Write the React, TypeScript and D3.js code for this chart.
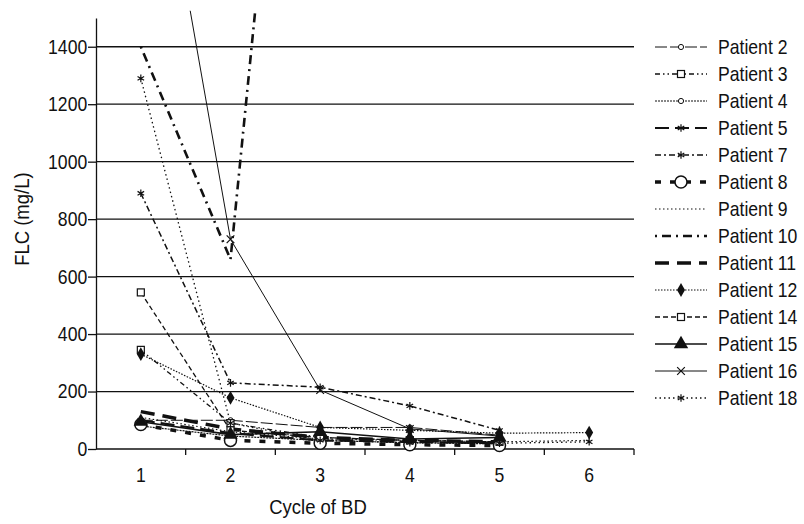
import React, { useEffect, useRef } from 'react';
import * as d3 from 'd3';

const cycles = ['1', '2', '3', '4', '5', '6'];
const yTicks = [0, 200, 400, 600, 800, 1000, 1200, 1400];

// FLC values per cycle (mg/L)
const patient2 = [100, 100, 75, 75, 48];
const patient3 = [345, 90, 40, 30, 25];
const patient4 = [80, 45, 30, 22, 18];
const patient5 = [100, 55, 30, 25, 20];
const patient7 = [890, 230, 215, 150, 65];
const patient8 = [85, 30, 20, 15, 12];
const patient9 = [110, 60, 35, 30, 25, 30];
const patient10 = [1400, 660, 3800];
const patient11 = [130, 70, 40, 30, 25];
const patient12 = [330, 178, 75, 65, 55, 57];
const patient14 = [545, 65, 40, 30, 25];
const patient15 = [95, 50, 60, 35, 40];
const patient16 = [2500, 730, 205, 70, 45];
const patient18 = [1290, 90, 30, 22, 20, 25];

type Mark = 'circle' | 'bigCircle' | 'square' | 'asterisk' | 'plus' | 'diamond' | 'triangle' | 'times' | 'none';

const series: { name: string; values: number[]; dash: string; width: number; mark: Mark }[] = [
    { name: 'Patient 2', values: patient2, dash: '12,3', width: 1, mark: 'circle' },
    { name: 'Patient 3', values: patient3, dash: '5,3,1.5,3,1.5,3', width: 1.3, mark: 'square' },
    { name: 'Patient 4', values: patient4, dash: '2,1', width: 1.2, mark: 'circle' },
    { name: 'Patient 5', values: patient5, dash: '14,6', width: 2.2, mark: 'asterisk' },
    { name: 'Patient 7', values: patient7, dash: '6,3,2,3', width: 1.5, mark: 'asterisk' },
    { name: 'Patient 8', values: patient8, dash: '6,9', width: 3.5, mark: 'bigCircle' },
    { name: 'Patient 9', values: patient9, dash: '1.5,2.5', width: 1.2, mark: 'plus' },
    { name: 'Patient 10', values: patient10, dash: '2,5,9,5', width: 2.6, mark: 'none' },
    { name: 'Patient 11', values: patient11, dash: '14,8', width: 3.5, mark: 'none' },
    { name: 'Patient 12', values: patient12, dash: '1.5,1.5', width: 1.2, mark: 'diamond' },
    { name: 'Patient 14', values: patient14, dash: '5,3', width: 1.3, mark: 'square' },
    { name: 'Patient 15', values: patient15, dash: 'none', width: 1.6, mark: 'triangle' },
    { name: 'Patient 16', values: patient16, dash: 'none', width: 1, mark: 'times' },
    { name: 'Patient 18', values: patient18, dash: '1.5,3', width: 1.3, mark: 'asterisk' }
];

const ink = '#111';
const font = '"Liberation Sans", Arial, sans-serif';
const squeeze = 'scale(0.88,1)';

function drawMark(g: d3.Selection<SVGGElement, unknown, null, undefined>, mark: Mark, cx: number, cy: number) {
    const t = `translate(${cx},${cy})`;
    switch (mark) {
        case 'circle':
            g.append('circle').attr('cx', cx).attr('cy', cy).attr('r', 2.6).attr('fill', '#fff').attr('stroke', ink).attr('stroke-width', 1);
            break;
        case 'bigCircle':
            g.append('circle').attr('cx', cx).attr('cy', cy).attr('r', 6).attr('fill', '#fff').attr('stroke', ink).attr('stroke-width', 1.5);
            break;
        case 'square':
            g.append('rect').attr('x', cx - 3.5).attr('y', cy - 3.5).attr('width', 7).attr('height', 7).attr('fill', '#fff').attr('stroke', ink).attr('stroke-width', 1.2);
            break;
        case 'asterisk':
            g.append('path').attr('d', d3.symbol(d3.symbolAsterisk, 40)()).attr('transform', t).attr('fill', 'none').attr('stroke', ink).attr('stroke-width', 1.2);
            break;
        case 'plus':
            g.append('path').attr('d', d3.symbol(d3.symbolPlus, 30)()).attr('transform', t).attr('fill', ink);
            break;
        case 'diamond':
            g.append('path').attr('d', d3.symbol(d3.symbolDiamond, 55)()).attr('transform', t).attr('fill', ink);
            break;
        case 'triangle':
            g.append('path').attr('d', d3.symbol(d3.symbolTriangle, 90)()).attr('transform', t).attr('fill', ink);
            break;
        case 'times':
            g.append('path').attr('d', d3.symbol(d3.symbolTimes, 40)()).attr('transform', t).attr('fill', 'none').attr('stroke', ink).attr('stroke-width', 1.2);
            break;
        default:
            break;
    }
}

const App = () => {
    const svgRef = useRef<SVGSVGElement>(null);
    const width = 804;
    const height = 524;

    useEffect(() => {
        if (!svgRef.current) return;
        const svg = d3.select(svgRef.current);
        svg.selectAll('*').remove();

        const margin = { top: 18, right: 170, bottom: 75, left: 96 };

        const x = d3.scaleBand()
            .domain(cycles)
            .range([margin.left, width - margin.right]);

        const y = d3.scaleLinear()
            .domain([0, 1500])
            .range([height - margin.bottom, margin.top]);

        // gridlines
        svg.append('g')
            .selectAll('line')
            .data(yTicks.slice(1))
            .join('line')
            .attr('x1', margin.left)
            .attr('x2', width - margin.right)
            .attr('y1', d => y(d))
            .attr('y2', d => y(d))
            .attr('stroke', ink)
            .attr('stroke-width', 1.3);

        // y axis
        svg.append('g')
            .attr('transform', `translate(${margin.left},0)`)
            .call(d3.axisLeft(y).tickValues(yTicks).tickFormat(d3.format('d')).tickSize(8).tickSizeOuter(0).tickPadding(2))
            .call(g => g.select('.domain').attr('stroke', ink).attr('stroke-width', 1.3))
            .call(g => g.selectAll('.tick line').attr('stroke', ink).attr('stroke-width', 1.3))
            .selectAll('text')
            .attr('fill', ink)
            .attr('transform', squeeze)
            .style('font-family', font)
            .style('font-size', '20px');

        // x axis
        const xAxis = svg.append('g').attr('transform', `translate(0,${y(0)})`);
        xAxis.append('line')
            .attr('x1', margin.left)
            .attr('x2', width - margin.right)
            .attr('stroke', ink)
            .attr('stroke-width', 1.5);
        xAxis.selectAll('line.tk')
            .data(cycles)
            .join('line')
            .attr('class', 'tk')
            .attr('x1', d => (x(d) as number) + x.bandwidth())
            .attr('x2', d => (x(d) as number) + x.bandwidth())
            .attr('y1', 0)
            .attr('y2', 6)
            .attr('stroke', ink)
            .attr('stroke-width', 1.3);
        xAxis.selectAll('text')
            .data(cycles)
            .join('text')
            .attr('transform', d => `translate(${(x(d) as number) + x.bandwidth() / 2},33) ${squeeze}`)
            .attr('text-anchor', 'middle')
            .attr('fill', ink)
            .style('font-family', font)
            .style('font-size', '20px')
            .text(d => d);

        // axis titles
        svg.append('text')
            .attr('transform', `translate(318,514) ${squeeze}`)
            .attr('text-anchor', 'middle')
            .attr('fill', ink)
            .style('font-family', font)
            .style('font-size', '21px')
            .text('Cycle of BD');

        svg.append('text')
            .attr('transform', `translate(29,${y(800)}) rotate(-90) ${squeeze}`)
            .attr('text-anchor', 'middle')
            .attr('fill', ink)
            .style('font-family', font)
            .style('font-size', '21px')
            .text('FLC (mg/L)');

        // clip for values running off the top
        svg.append('clipPath')
            .attr('id', 'plot-clip')
            .append('rect')
            .attr('x', margin.left)
            .attr('y', y(1525))
            .attr('width', width - margin.right - margin.left)
            .attr('height', y(0) - y(1525) + 10);

        const cx = (i: number) => (x(cycles[i]) as number) + x.bandwidth() / 2;
        const line = d3.line<number>()
            .x((d, i) => cx(i))
            .y(d => y(d));

        const plot = svg.append('g').attr('clip-path', 'url(#plot-clip)');
        series.forEach(s => {
            plot.append('path')
                .datum(s.values)
                .attr('fill', 'none')
                .attr('stroke', ink)
                .attr('stroke-width', s.width)
                .attr('stroke-dasharray', s.dash)
                .attr('d', line);
        });
        const marks = svg.append('g');
        series.forEach(s => {
            s.values.forEach((v, i) => {
                if (v <= 1500) drawMark(marks, s.mark, cx(i), y(v));
            });
        });

        // legend
        const legend = svg.append('g').attr('transform', 'translate(655,47)');
        series.forEach((s, i) => {
            const row = legend.append('g').attr('transform', `translate(0,${i * 27})`);
            row.append('line')
                .attr('x1', 0)
                .attr('x2', 52)
                .attr('stroke', ink)
                .attr('stroke-width', s.width)
                .attr('stroke-dasharray', s.dash);
            drawMark(row, s.mark, 26, 0);
            row.append('text')
                .attr('transform', `translate(63,0) ${squeeze}`)
                .attr('dy', '0.35em')
                .attr('fill', ink)
                .style('font-family', font)
                .style('font-size', '20px')
                .text(s.name);
        });
    }, []);

    return (
        <div style={{ position: 'absolute', left: 0, top: 0, width, height, background: '#fff' }}>
            <svg ref={svgRef} width={width} height={height} />
        </div>
    );
};

export default App;
